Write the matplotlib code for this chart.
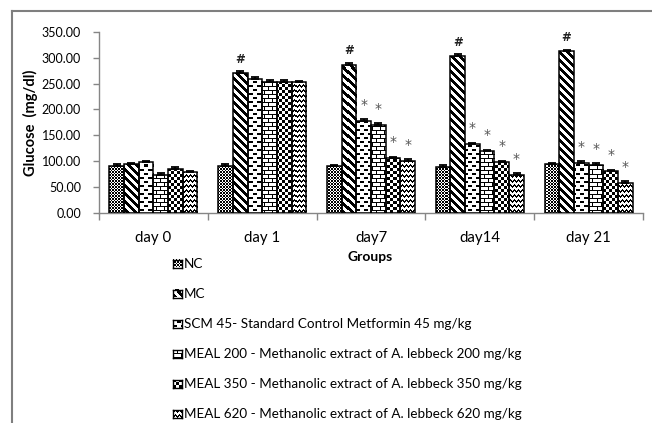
import numpy as np
import matplotlib
matplotlib.use("Agg")
import matplotlib.pyplot as plt

# ---- data -------------------------------------------------------------
days = ["day 0", "day 1", "day7", "day14", "day 21"]
groups = ["NC", "MC",
          "SCM 45- Standard Control Metformin 45 mg/kg",
          "MEAL 200 - Methanolic extract of A. lebbeck 200 mg/kg",
          "MEAL 350 - Methanolic extract of A. lebbeck 350 mg/kg",
          "MEAL 620 - Methanolic extract of A. lebbeck 620 mg/kg"]

nc = [91.0, 91.0, 91.0, 89.0, 93.5]
mc = [93.5, 270.5, 287.0, 303.0, 313.0]
scm = [99.0, 259.0, 178.0, 133.0, 97.0]
meal200 = [73.0, 253.5, 170.0, 119.5, 93.0]
meal350 = [85.0, 253.5, 105.0, 98.0, 81.0]
meal620 = [78.5, 253.0, 99.5, 73.0, 58.0]

nc_err = [4, 4, 2, 3, 3]
mc_err = [2, 4, 2, 4, 2]
scm_err = [2, 4, 3, 2, 3]
meal200_err = [3, 3, 4, 2, 4]
meal350_err = [4, 4, 3, 2, 2]
meal620_err = [3, 2, 4, 3, 3]

# significance marks: '#' on MC vs NC, '*' on treatments vs MC
hash_days = [1, 2, 3, 4]
star_days = [2, 3, 4]

series = [nc, mc, scm, meal200, meal350, meal620]
errors = [nc_err, mc_err, scm_err, meal200_err, meal350_err, meal620_err]

# ---- fill textures (functions of absolute pixel position) --------------
def pat_nc(X, Y):
    return ((X + Y) % 3 == 0) | ((X - Y) % 3 == 0)

def pat_mc(X, Y):
    return (X + Y) % 8 < 4

def pat_scm(X, Y):
    r = Y % 8
    return ((r < 2) & (X % 8 < 4)) | ((r >= 4) & (r < 6) & ((X + 4) % 8 < 4))

def pat_brick(X, Y):
    r = Y % 8
    horiz = (r == 0) | (r == 4)
    vert = ((r < 4) & (X % 8 == 0)) | ((r > 4) & ((X + 4) % 8 == 0))
    return horiz | vert

def pat_check(X, Y):
    return ((X // 3) + (Y // 3)) % 2 == 0

def pat_zigzag(X, Y):
    off = np.array([0, 1, 2, 1])[X % 4]
    return (Y - off) % 5 < 2

patterns = [pat_nc, pat_mc, pat_scm, pat_brick, pat_check, pat_zigzag]


def texture(fn, x0, y0, w, h):
    X, Y = np.meshgrid(np.arange(x0, x0 + w), np.arange(y0, y0 + h))
    black = fn(X, Y)
    img = np.where(black, 0.0, 1.0)
    return np.dstack([img, img, img])


W, H = 652, 423
fig = plt.figure(figsize=(W / 100, H / 100), dpi=100)

ax_left, ax_right, ax_top, ax_bot = 99, 643, 32, 212.7
ax = fig.add_axes([ax_left / W, 1 - ax_bot / H,
                   (ax_right - ax_left) / W, (ax_bot - ax_top) / H])

n_days = len(days)
n_groups = len(groups)
bw = 0.135
x = np.arange(n_days)
ax.set_xlim(-0.5, n_days - 0.5)
ax.set_ylim(0, 350)

bar_sets = []
for j, (vals, errs) in enumerate(zip(series, errors)):
    xs = x + (j - (n_groups - 1) / 2) * bw
    bars = ax.bar(xs, vals, width=bw, facecolor="none", edgecolor="black",
                  linewidth=1.1, zorder=3)
    ax.errorbar(xs, vals, yerr=[np.zeros(n_days), errs], fmt="none",
                ecolor="black", elinewidth=1.3, capsize=3, capthick=1.3,
                zorder=4)
    bar_sets.append((xs, bars))

# fill each bar with its texture, clipped to the bar outline
for j, (xs, bars) in enumerate(bar_sets):
    for b in bars:
        bx, by, bwid, bh = b.get_x(), b.get_y(), b.get_width(), b.get_height()
        p0 = ax.transData.transform((bx, by))
        p1 = ax.transData.transform((bx + bwid, by + bh))
        px0, py0 = int(np.floor(p0[0])), int(np.floor(p0[1]))
        pw = max(int(np.ceil(p1[0])) - px0, 1)
        ph = max(int(np.ceil(p1[1])) - py0, 1)
        img = texture(patterns[j], px0, py0, pw, ph)
        e0 = ax.transData.inverted().transform((px0, py0))
        e1 = ax.transData.inverted().transform((px0 + pw, py0 + ph))
        im = ax.imshow(img, origin="lower", extent=(e0[0], e1[0], e0[1], e1[1]),
                       interpolation="nearest", aspect="auto", zorder=2)
        im.set_clip_path(b)

ax.set_xlim(-0.5, n_days - 0.5)
ax.set_ylim(0, 350)

# significance marks
mc_x = bar_sets[1][0]
for d in hash_days:
    ax.text(mc_x[d], mc[d] + 27, "#", ha="center", va="center",
            fontsize=8.5, fontweight="bold", family="DejaVu Sans", color="#222222")
for j in range(2, n_groups):
    for d in star_days:
        ax.text(bar_sets[j][0][d], series[j][d] + 31, "*", ha="center",
                va="center", fontsize=10, family="DejaVu Sans", color="#555555")

# axes styling
for s in ["top", "right"]:
    ax.spines[s].set_visible(False)
for s in ["left", "bottom"]:
    ax.spines[s].set_color("#868686")
    ax.spines[s].set_linewidth(1.0)

ax.set_yticks(np.arange(0, 351, 50))
ax.set_yticklabels([f"{v:.2f}" for v in np.arange(0, 351, 50)],
                   family="Lato", fontsize=9.0)
ax.tick_params(axis="y", length=4, width=1, color="#868686", pad=9)

ax.set_xticks(x)
ax.set_xticklabels(days, family="Lato", fontsize=10.8)
ax.set_xticks(np.arange(-0.5, n_days, 1), minor=True)
ax.tick_params(axis="x", which="major", length=0, pad=13)
ax.tick_params(axis="x", which="minor", length=5, width=1, color="#868686")

ax.set_ylabel("Glucose  (mg/dl)", family="Lato", fontweight="bold",
              fontsize=10.5, labelpad=3)
fig.text(370 / W, 1 - 257 / H, "Groups", family="Lato", fontweight="bold",
         fontsize=10, ha="center", va="center")

# legend: stacked entries with texture swatches
leg_y = [263.5, 293.5, 323.5, 353.5, 383.5, 413.5]
for j, name in enumerate(groups):
    yc = leg_y[j]
    sw = fig.add_axes([173 / W, 1 - (yc + 4) / H, 9 / W, 8 / H])
    sw.imshow(texture(patterns[j], 0, 0, 9, 8), origin="lower",
              interpolation="nearest", aspect="auto")
    sw.set_xticks([])
    sw.set_yticks([])
    for s in sw.spines.values():
        s.set_linewidth(1.0)
    fig.text(184 / W, 1 - yc / H, name, family="Lato", fontsize=9.7,
             ha="left", va="center")

# outer frame lines
fig.add_artist(plt.Line2D([11.5 / W, 1], [1 - 11.5 / H, 1 - 11.5 / H],
                          color="#7f7f7f", lw=1.5, transform=fig.transFigure))
fig.add_artist(plt.Line2D([11.5 / W, 11.5 / W], [0, 1 - 11.5 / H],
                          color="#7f7f7f", lw=1.5, transform=fig.transFigure))

fig.savefig("out.png", dpi=100)
